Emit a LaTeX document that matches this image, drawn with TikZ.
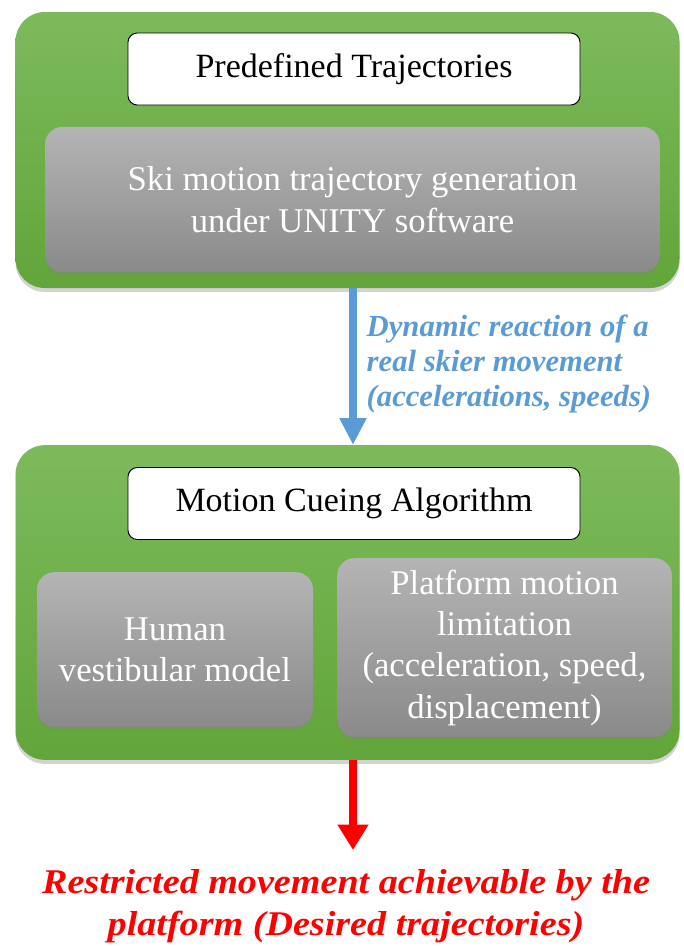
\documentclass[tikz,border=0pt]{standalone}
\usepackage{fontspec}
\setmainfont{Liberation Serif}
\newfontfamily\widefont{Liberation Serif}[FakeStretch=1.1]
\usepackage{xcolor}
\usetikzlibrary{arrows.meta, positioning, shadows, calc}

\definecolor{greentop}{HTML}{7DBA5C}
\definecolor{greenbot}{HTML}{62A53A}
\definecolor{graytop}{HTML}{B4B4B4}
\definecolor{graybot}{HTML}{8A8A8A}
\definecolor{flowblue}{HTML}{5B9BD5}
\definecolor{flowred}{HTML}{FF0000}

\begin{document}
\begin{tikzpicture}[
    x=0.75pt, y=-0.75pt,
    panel/.style={rectangle, rounded corners=22pt, top color=greentop, bottom color=greenbot,
        minimum width=498pt, minimum height=#1,
        drop shadow={opacity=0.35, shadow xshift=0pt, shadow yshift=-3pt}},
    titlebox/.style={rectangle, rounded corners=7pt, draw=black, fill=white, line width=0.7pt,
        minimum width=339pt, minimum height=54pt, font=\fontsize{25.5}{29}\selectfont},
    graybox/.style={rectangle, rounded corners=13pt, top color=graytop, bottom color=graybot,
        text=white, align=center, font=\fontsize{26}{31}\selectfont,
        drop shadow={opacity=0.3, shadow xshift=0pt, shadow yshift=-2pt}},
    arr/.style={-{Triangle[length=20pt, width=19pt]}, line width=6pt},
    flowlabel/.style={font=\fontsize{23}{26}\selectfont\bfseries\itshape, align=left},
]
\useasboundingbox (0,0) rectangle (683,947);

% ======== UNITY block (top) ========
\node[panel=207pt] (unity) at (347.5,150) {};
\node[titlebox] (predef) at (354,69) {Predefined Trajectories};
\node[graybox, minimum width=461pt, minimum height=109pt] (skigen) at (352.5,199.5)
    {Ski motion trajectory generation\\under UNITY software};

% ======== MCA block (bottom) ========
\node[panel=236pt] (mca) at (347.5,602.5) {};
\node[titlebox] (mcatitle) at (354,503.5) {Motion Cueing Algorithm};
\node[graybox, minimum width=207pt, minimum height=116pt] (vestib) at (175,649.5)
    {Human\\vestibular model};
\node[graybox, minimum width=251pt, minimum height=134pt] (limits) at (504.5,647.5)
    {Platform motion\\limitation\\(acceleration, speed,\\displacement)};

% ======== arrows ========
\draw[arr, flowblue] ($(unity.south)+(5.5,0)$) -- ($(mca.north)+(5.5,0)$);
\node[flowlabel, text=flowblue, anchor=west] (dynlabel) at (362,364)
    {Dynamic reaction of a\\real skier movement\\(accelerations, speeds)};

\node[font=\widefont\fontsize{26}{32}\selectfont\bfseries\itshape, text=flowred, align=center]
    (output) at (346,906) {Restricted movement achievable by the\\platform (Desired trajectories)};
\coordinate (redtip) at (353,850);
\draw[arr, flowred, -{Triangle[length=19pt, width=22pt]}] ($(mca.south)+(5.5,0)$) -- (redtip);

\end{tikzpicture}
\end{document}
